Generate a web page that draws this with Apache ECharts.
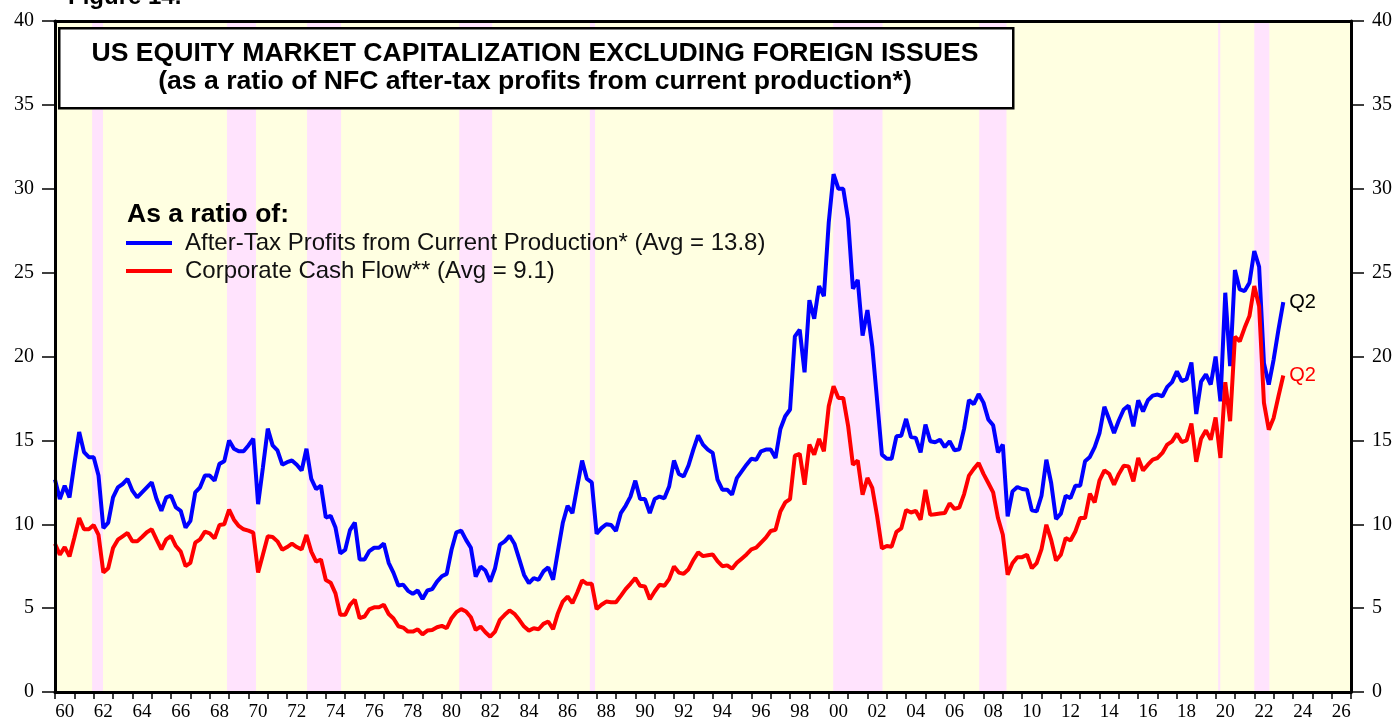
<!DOCTYPE html>
<html>
<head>
<meta charset="utf-8">
<script src="https://cdn.jsdelivr.net/npm/echarts@6/dist/echarts.min.js"></script>
<style>
  html, body { margin: 0; padding: 0; background: #fff; }
  #chart { width: 1397px; height: 721px; }
</style>
</head>
<body>
<div id="chart"></div>
<script>
// quarterly observations, first one plotted at the start of 1960
const startYear = 1960
const quarterStep = 0.25

// market cap / after-tax profits from current production
const profitsRatio = [
  12.66, 11.5, 12.3, 11.6, 13.6, 15.5, 14.3, 14.0, 14.0, 12.9,
  9.77, 10.1, 11.6, 12.2, 12.4, 12.7, 12.0, 11.6, 11.9, 12.2,
  12.5, 11.5, 10.8, 11.6, 11.7, 11.0, 10.8, 9.8, 10.2, 11.9,
  12.2, 12.9, 12.9, 12.6, 13.6, 13.75, 15.0, 14.5, 14.35, 14.35,
  14.7, 15.1, 11.2, 13.4, 15.7, 14.7, 14.4, 13.55, 13.7, 13.8,
  13.55, 13.2, 14.5, 12.7, 12.1, 12.3, 10.4, 10.5, 9.8, 8.27,
  8.47, 9.65, 10.1, 7.9, 7.9, 8.4, 8.6, 8.6, 8.85, 7.7,
  7.1, 6.35, 6.4, 6.03, 5.85, 6.05, 5.55, 6.05, 6.13, 6.58,
  6.9, 7.04, 8.48, 9.52, 9.62, 9.07, 8.6, 6.88, 7.48, 7.24,
  6.58, 7.38, 8.78, 8.98, 9.31, 8.84, 7.92, 6.98, 6.49, 6.79,
  6.69, 7.19, 7.43, 6.69, 8.4, 10.07, 11.1, 10.66, 12.25, 13.8,
  12.7, 12.5, 9.43, 9.77, 10.0, 9.95, 9.6, 10.66, 11.1, 11.65,
  12.6, 11.5, 11.5, 10.66, 11.5, 11.65, 11.55, 12.25, 13.8, 13.0,
  12.85, 13.5, 14.45, 15.3, 14.75, 14.45, 14.25, 12.66, 12.06, 12.06,
  11.76, 12.75, 13.15, 13.55, 13.9, 13.85, 14.35, 14.45, 14.45, 13.95,
  15.68, 16.44, 16.84, 21.2, 21.6, 19.06, 23.36, 22.25, 24.2, 23.6,
  27.98, 30.87, 30.0, 30.0, 28.18, 24.04, 24.56, 21.25, 22.77, 20.6,
  17.4, 14.15, 13.9, 13.9, 15.24, 15.28, 16.28, 15.2, 15.15, 14.29,
  15.94, 14.95, 14.89, 15.04, 14.6, 14.95, 14.41, 14.47, 15.7, 17.4,
  17.16, 17.76, 17.25, 16.25, 15.9, 14.28, 14.75, 10.47, 11.96, 12.22,
  12.1, 12.06, 10.83, 10.77, 11.7, 13.85, 12.46, 10.31, 10.63, 11.7,
  11.56, 12.3, 12.3, 13.75, 14.01, 14.6, 15.44, 17.0, 16.24, 15.44,
  16.2, 16.84, 17.07, 15.84, 17.39, 16.73, 17.39, 17.67, 17.73, 17.63,
  18.19, 18.47, 19.12, 18.53, 18.65, 19.64, 16.57, 18.5, 18.93, 18.33,
  20.0, 17.33, 23.8, 19.42, 25.15, 24.0, 23.9, 24.4, 26.29, 25.35,
  19.6, 18.33, 19.82, 21.6, 23.24
]

// market cap / corporate cash flow
const cashFlowRatio = [
  8.84, 8.18, 8.64, 8.08, 9.2, 10.37, 9.7, 9.7, 9.95, 9.36,
  7.12, 7.38, 8.58, 9.08, 9.28, 9.48, 8.98, 8.98, 9.24, 9.52,
  9.7, 9.08, 8.5, 9.1, 9.3, 8.7, 8.37, 7.5, 7.7, 8.9,
  9.1, 9.56, 9.46, 9.16, 9.95, 10.0, 10.87, 10.27, 9.9, 9.7,
  9.62, 9.5, 7.12, 8.2, 9.28, 9.24, 8.98, 8.48, 8.64, 8.84,
  8.64, 8.5, 9.36, 8.37, 7.77, 7.9, 6.68, 6.52, 5.88, 4.6,
  4.6, 5.2, 5.5, 4.4, 4.5, 4.93, 5.05, 5.05, 5.2, 4.65,
  4.38, 3.92, 3.84, 3.6, 3.6, 3.74, 3.44, 3.66, 3.7, 3.86,
  3.94, 3.8, 4.4, 4.76, 4.94, 4.8, 4.46, 3.7, 3.9, 3.56,
  3.3, 3.6, 4.3, 4.6, 4.86, 4.66, 4.3, 3.9, 3.66, 3.8,
  3.74, 4.06, 4.2, 3.74, 4.7, 5.39, 5.69, 5.3, 5.93, 6.65,
  6.45, 6.45, 4.94, 5.2, 5.39, 5.35, 5.35, 5.73, 6.13, 6.45,
  6.79, 6.33, 6.29, 5.53, 5.99, 6.39, 6.33, 6.73, 7.48, 7.12,
  7.04, 7.32, 7.88, 8.32, 8.1, 8.15, 8.2, 7.8, 7.5, 7.55,
  7.35, 7.7, 7.95, 8.2, 8.5, 8.6, 8.9, 9.2, 9.6, 9.67,
  10.76, 11.3, 11.5, 14.09, 14.2, 12.36, 14.75, 14.15, 15.09, 14.35,
  17.03, 18.23, 17.53, 17.53, 15.88, 13.55, 13.8, 11.76, 12.76, 12.17,
  10.5, 8.56, 8.7, 8.66, 9.55, 9.75, 10.85, 10.7, 10.8, 10.27,
  12.05, 10.56, 10.6, 10.64, 10.67, 11.25, 10.92, 11.0, 11.8, 12.9,
  13.3, 13.65, 13.0, 12.46, 11.9, 10.37, 9.37, 6.99, 7.68, 8.04,
  8.04, 8.18, 7.38, 7.68, 8.52, 9.97, 9.07, 7.84, 8.18, 9.18,
  9.03, 9.57, 10.37, 10.37, 11.82, 11.3, 12.62, 13.21, 13.0, 12.36,
  13.0, 13.49, 13.45, 12.56, 13.95, 13.21, 13.55, 13.85, 13.95, 14.25,
  14.75, 14.94, 15.4, 14.9, 15.0, 16.0, 13.72, 15.1, 15.6, 15.04,
  16.37, 13.95, 18.47, 16.14, 21.18, 20.91, 21.71, 22.41, 24.2, 23.0,
  17.24, 15.64, 16.34, 17.63, 18.87
]

// shaded periods (bear markets), in years
const bearMarkets = [
  [1961.92, 1962.48], [1968.89, 1970.39], [1973.03, 1974.79],
  [1980.9, 1982.6], [1987.65, 1987.92], [2000.23, 2002.78],
  [2007.78, 2009.19], [2020.13, 2020.24], [2022.0, 2022.78]
]

// years carrying a label (label sits in the middle of the year)
const labelYears = [
  1960, 1962, 1964, 1966, 1968, 1970, 1972, 1974, 1976, 1978, 1980, 1982,
  1984, 1986, 1988, 1990, 1992, 1994, 1996, 1998, 2000, 2002, 2004, 2006,
  2008, 2010, 2012, 2014, 2016, 2018, 2020, 2022, 2024, 2026
]

const seriesNames = [
  'After-Tax Profits from Current Production* (Avg = 13.8)',
  'Corporate Cash Flow** (Avg = 9.1)'
]

const toPairs = (arr) => arr.map((v, i) => [startYear + i * quarterStep, v])

const serif = 'Liberation Serif, Times New Roman, serif'
const sans = 'Liberation Sans, Arial, sans-serif'

const yAxisBase = {
  type: 'value',
  min: 0,
  max: 40,
  interval: 5,
  z: 10,
  axisLine: { show: true, lineStyle: { color: '#000', width: 3 } },
  axisTick: { show: true, inside: false, length: 13, lineStyle: { color: '#000', width: 1.5 } },
  axisLabel: { color: '#000', fontFamily: serif, fontSize: 20, margin: 21 },
  splitLine: { show: false }
}

const chart = echarts.init(document.getElementById('chart'))

chart.setOption({
  animation: false,
  backgroundColor: '#fff',
  grid: {
    left: 55, right: 46, top: 21, bottom: 29,
    outerBoundsMode: 'none',
    containLabel: false,
    show: true,
    backgroundColor: '#ffffe1',
    borderColor: '#000',
    borderWidth: 2
  },
  xAxis: [
    {
      type: 'value', min: 1960, max: 2027, interval: 1,
      position: 'bottom',
      z: 10,
      axisLine: { show: true, onZero: false, lineStyle: { color: '#000', width: 3 } },
      axisTick: { show: true, inside: false, length: 7, lineStyle: { color: '#000', width: 1.5 } },
      axisLabel: { show: false },
      splitLine: { show: false }
    },
    {
      // label axis shifted half a year so labels sit between ticks
      type: 'value', min: 1959.5, max: 2026.5, interval: 0.5,
      position: 'bottom',
      axisLine: { show: false, onZero: false },
      axisTick: { show: false },
      splitLine: { show: false },
      axisLabel: {
        color: '#000', fontFamily: serif, fontSize: 19, margin: 11,
        formatter: (v) => labelYears.includes(v) ? String(v % 100).padStart(2, '0') : ''
      }
    },
    {
      type: 'value', min: 1960, max: 2027, interval: 1,
      position: 'top',
      z: 10,
      axisLine: { show: true, onZero: false, lineStyle: { color: '#000', width: 3 } },
      axisTick: { show: false },
      axisLabel: { show: false },
      splitLine: { show: false }
    }
  ],
  yAxis: [
    { ...yAxisBase, position: 'left' },
    { ...yAxisBase, position: 'right' }
  ],
  legend: {
    orient: 'vertical',
    left: 126,
    top: 231,
    padding: 0,
    icon: 'rect',
    itemWidth: 46,
    itemHeight: 4,
    itemGap: 4,
    selectedMode: false,
    data: seriesNames,
    textStyle: { color: '#111', fontFamily: sans, fontSize: 24, padding: [0, 0, 0, 8] }
  },
  graphic: [
    {
      type: 'text', left: 68, top: -15, z: 10,
      style: { text: 'Figure 14.', fill: '#000', font: 'bold 24px ' + sans }
    },
    {
      type: 'rect', z: 10, left: 58, top: 27,
      shape: { x: 0, y: 0, width: 954, height: 80 },
      style: { fill: '#fff', stroke: '#000', lineWidth: 2.5 }
    },
    {
      type: 'text', z: 11, x: 535, y: 54,
      style: {
        text: 'US EQUITY MARKET CAPITALIZATION EXCLUDING FOREIGN ISSUES',
        fill: '#000', font: 'bold 26.6px ' + sans, align: 'center', verticalAlign: 'middle'
      }
    },
    {
      type: 'text', z: 11, x: 535, y: 82,
      style: {
        text: '(as a ratio of NFC after-tax profits from current production*)',
        fill: '#000', font: 'bold 26.6px ' + sans, align: 'center', verticalAlign: 'middle'
      }
    },
    {
      type: 'text', z: 10, x: 127, y: 215,
      style: { text: 'As a ratio of:', fill: '#000', font: 'bold 26.5px ' + sans, verticalAlign: 'middle' }
    }
  ],
  series: [
    {
      name: 'bear markets',
      type: 'line',
      data: [],
      silent: true,
      z: 1,
      markArea: {
        silent: true,
        itemStyle: { color: '#ffe3fd' },
        data: bearMarkets.map(([a, b]) => [{ xAxis: a }, { xAxis: b }])
      }
    },
    {
      name: seriesNames[0],
      type: 'line',
      data: toPairs(profitsRatio),
      showSymbol: false,
      symbol: 'none',
      color: '#0000ff',
      lineStyle: { color: '#0000ff', width: 4 },
      z: 3,
      endLabel: { show: true, formatter: 'Q2', color: '#000', fontFamily: sans, fontSize: 20, distance: 6 }
    },
    {
      name: seriesNames[1],
      type: 'line',
      data: toPairs(cashFlowRatio),
      showSymbol: false,
      symbol: 'none',
      color: '#ff0000',
      lineStyle: { color: '#ff0000', width: 4 },
      z: 4,
      endLabel: { show: true, formatter: 'Q2', color: '#ff0000', fontFamily: sans, fontSize: 20, distance: 6 }
    }
  ]
})
</script>
</body>
</html>
